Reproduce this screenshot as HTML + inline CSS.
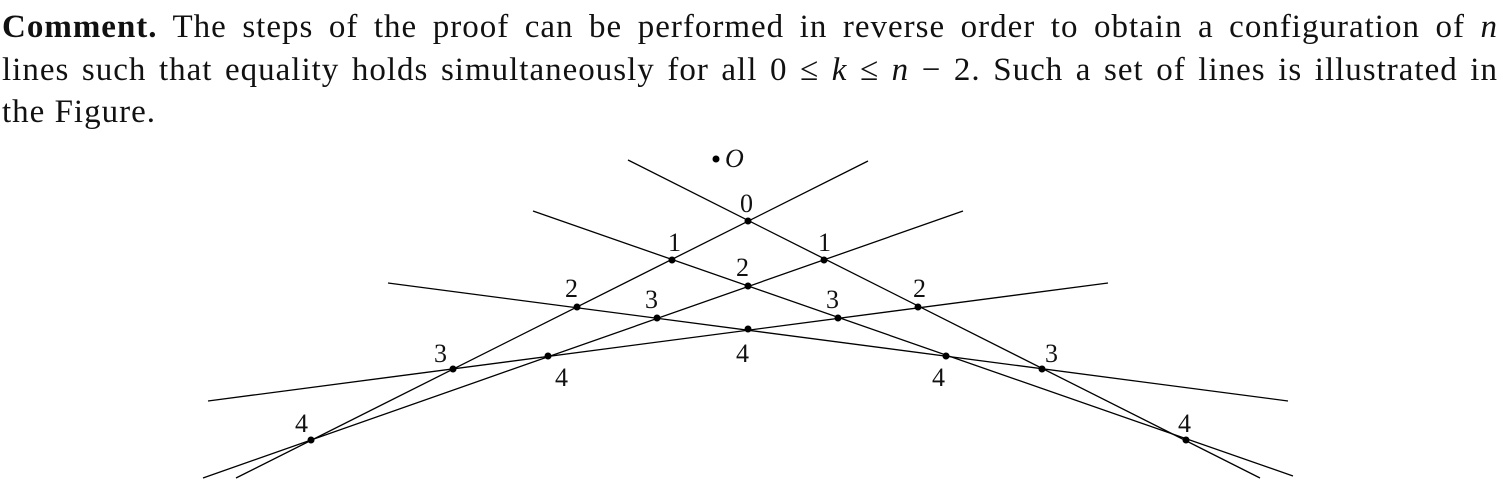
<!DOCTYPE html>
<html><head><meta charset="utf-8"><style>
html,body{margin:0;padding:0;background:#fff;width:1503px;height:497px;overflow:hidden;position:relative}
.t{position:absolute;left:2px;width:1496px;font-family:"Liberation Serif",serif;font-size:33px;letter-spacing:1px;color:#111;white-space:nowrap;line-height:1}
.j{text-align:justify;text-align-last:justify}
svg{position:absolute;left:0;top:0}
svg text{font-family:"Liberation Serif",serif;font-size:26px;fill:#111}
</style></head><body>
<div class="t j" style="top:11px"><b>Comment.</b> The steps of the proof can be performed in reverse order to obtain a configuration of <i>n</i></div>
<div class="t j" style="top:54px">lines such that equality holds simultaneously for all 0 ≤ <i>k</i> ≤ <i>n</i> − 2. Such a set of lines is illustrated in</div>
<div class="t" style="top:96px">the Figure.</div>
<svg width="1503" height="497" viewBox="0 0 1503 497">
<g stroke="#000" stroke-width="1.3" fill="none">
<line x1="628" y1="160" x2="1260" y2="478"/>
<line x1="868" y1="161" x2="236" y2="478"/>
<line x1="533" y1="211" x2="1293" y2="476"/>
<line x1="963" y1="211" x2="203" y2="478"/>
<line x1="388" y1="283" x2="1288" y2="401"/>
<line x1="1108" y1="283" x2="208" y2="401"/>
</g>
<g fill="#000">
<circle cx="716" cy="159" r="3.5"/>
<circle cx="748" cy="221" r="3.5"/>
<circle cx="672" cy="260" r="3.5"/><circle cx="824" cy="260" r="3.5"/>
<circle cx="748" cy="286" r="3.5"/>
<circle cx="577" cy="307" r="3.5"/><circle cx="918" cy="307" r="3.5"/>
<circle cx="657" cy="318" r="3.5"/><circle cx="838" cy="318" r="3.5"/>
<circle cx="748" cy="329" r="3.5"/>
<circle cx="548" cy="356" r="3.5"/><circle cx="946" cy="356" r="3.5"/>
<circle cx="453" cy="369" r="3.5"/><circle cx="1042" cy="369" r="3.5"/>
<circle cx="311" cy="440" r="3.5"/><circle cx="1186" cy="440" r="3.5"/>
</g>
<text x="725" y="167" font-style="italic">O</text>
<text x="740" y="212">0</text>
<text x="668" y="251">1</text><text x="818" y="251">1</text>
<text x="736" y="276">2</text>
<text x="565" y="297">2</text><text x="913" y="297">2</text>
<text x="645" y="308">3</text><text x="826" y="308">3</text>
<text x="736" y="362">4</text>
<text x="555" y="386">4</text><text x="932" y="386">4</text>
<text x="434" y="362">3</text><text x="1045" y="362">3</text>
<text x="295" y="432">4</text><text x="1178" y="432">4</text>
</svg>
</body></html>
